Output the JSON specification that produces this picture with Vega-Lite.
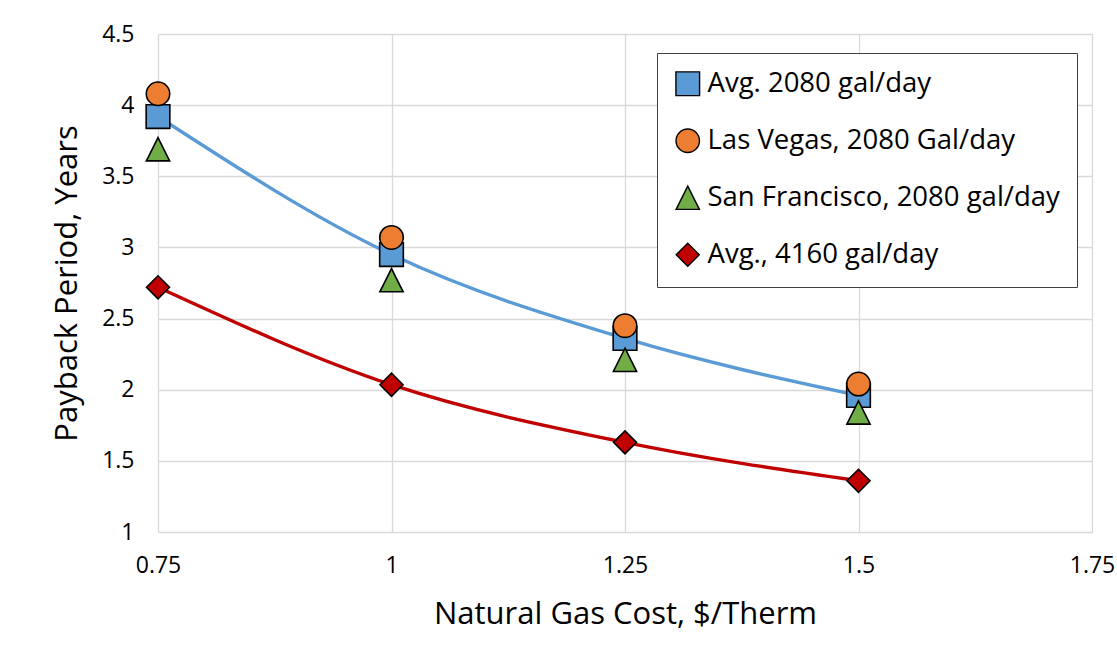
{
  "$schema": "https://vega.github.io/schema/vega-lite/v6.json",
  "width": 934,
  "height": 498,
  "autosize": "none",
  "padding": {"left": 158, "top": 34, "right": 25, "bottom": 134},
  "background": "white",
  "config": {
    "font": "Open Sans",
    "view": {"stroke": null},
    "axis": {
      "grid": true,
      "gridColor": "#D9D9D9",
      "gridWidth": 1.3,
      "domain": false,
      "ticks": false,
      "labelColor": "#000000",
      "titleColor": "#000000",
      "labelFont": "Open Sans",
      "titleFont": "Open Sans",
      "titleFontWeight": "normal"
    }
  },
  "data": {
    "values": [
      {"cost": 0.75, "years": 3.92, "series": "Avg. 2080 gal/day"},
      {"cost": 1.0, "years": 2.95, "series": "Avg. 2080 gal/day"},
      {"cost": 1.25, "years": 2.36, "series": "Avg. 2080 gal/day"},
      {"cost": 1.5, "years": 1.96, "series": "Avg. 2080 gal/day"},
      {"cost": 0.75, "years": 4.08, "series": "Las Vegas, 2080 Gal/day"},
      {"cost": 1.0, "years": 3.07, "series": "Las Vegas, 2080 Gal/day"},
      {"cost": 1.25, "years": 2.45, "series": "Las Vegas, 2080 Gal/day"},
      {"cost": 1.5, "years": 2.04, "series": "Las Vegas, 2080 Gal/day"},
      {"cost": 0.75, "years": 3.69, "series": "San Francisco, 2080 gal/day"},
      {"cost": 1.0, "years": 2.77, "series": "San Francisco, 2080 gal/day"},
      {"cost": 1.25, "years": 2.21, "series": "San Francisco, 2080 gal/day"},
      {"cost": 1.5, "years": 1.84, "series": "San Francisco, 2080 gal/day"},
      {"cost": 0.75, "years": 2.72, "series": "Avg., 4160 gal/day"},
      {"cost": 1.0, "years": 2.035, "series": "Avg., 4160 gal/day"},
      {"cost": 1.25, "years": 1.63, "series": "Avg., 4160 gal/day"},
      {"cost": 1.5, "years": 1.36, "series": "Avg., 4160 gal/day"}
    ]
  },
  "encoding": {
    "x": {
      "field": "cost",
      "type": "quantitative",
      "title": "Natural Gas Cost, $/Therm",
      "scale": {"domain": [0.75, 1.75], "nice": false, "zero": false},
      "axis": {
        "values": [0.75, 1, 1.25, 1.5, 1.75],
        "format": ".3~g",
        "labelFontSize": 23,
        "labelPadding": 22,
        "titleFontSize": 31,
        "titlePadding": 22,
        "labelFlush": false,
        "labelOverlap": false
      }
    },
    "y": {
      "field": "years",
      "type": "quantitative",
      "title": "Payback Period, Years",
      "scale": {"domain": [1, 4.5], "nice": false, "zero": false},
      "axis": {
        "values": [1, 1.5, 2, 2.5, 3, 3.5, 4, 4.5],
        "format": ".3~g",
        "labelFontSize": 23,
        "labelPadding": 24,
        "titleFontSize": 31,
        "titlePadding": 18,
        "labelFlush": false,
        "labelOverlap": false
      }
    }
  },
  "layer": [
    {
      "transform": [
        {"filter": "datum.series === 'Avg. 2080 gal/day' || datum.series === 'Avg., 4160 gal/day'"}
      ],
      "mark": {"type": "line", "interpolate": "monotone", "strokeWidth": 3.4},
      "encoding": {
        "stroke": {
          "field": "series",
          "type": "nominal",
          "scale": {"domain": ["Avg. 2080 gal/day", "Avg., 4160 gal/day"], "range": ["#5B9BD5", "#C00000"]},
          "legend": null
        }
      }
    },
    {
      "mark": {"type": "point", "filled": true, "opacity": 1, "stroke": "#000000", "strokeWidth": 1.6},
      "encoding": {
        "color": {
          "field": "series",
          "type": "nominal",
          "title": null,
          "scale": {
            "domain": ["Avg. 2080 gal/day", "Las Vegas, 2080 Gal/day", "San Francisco, 2080 gal/day", "Avg., 4160 gal/day"],
            "range": ["#5B9BD5", "#ED7D31", "#70AD47", "#C00000"]
          },
          "legend": {
            "orient": "none",
            "legendX": 499,
            "legendY": 19,
            "padding": 17,
            "strokeColor": "#404040",
            "fillColor": "white",
            "labelFontSize": 27.5,
            "labelColor": "#000000",
            "labelFont": "Open Sans",
            "symbolSize": 361,
            "symbolStrokeColor": "#000000",
            "symbolStrokeWidth": 1.4,
            "symbolOpacity": 1,
            "labelOffset": 6,
            "rowPadding": 27,
            "labelLimit": 500
          }
        },
        "shape": {
          "field": "series",
          "type": "nominal",
          "scale": {
            "domain": ["Avg. 2080 gal/day", "Las Vegas, 2080 Gal/day", "San Francisco, 2080 gal/day", "Avg., 4160 gal/day"],
            "range": ["square", "circle", "M0,-1L1,1L-1,1Z", "diamond"]
          }
        },
        "size": {
          "field": "series",
          "type": "nominal",
          "scale": {
            "domain": ["Avg. 2080 gal/day", "Las Vegas, 2080 Gal/day", "San Francisco, 2080 gal/day", "Avg., 4160 gal/day"],
            "range": [560, 530, 530, 720]
          },
          "legend": null
        }
      }
    }
  ]
}
